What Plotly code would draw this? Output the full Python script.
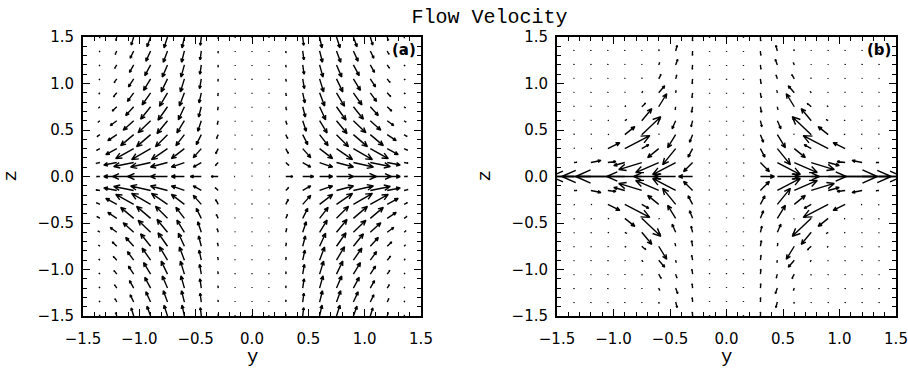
import math
import plotly.graph_objects as go

# ---------------- data ----------------
# grid of the velocity field (y columns, z rows)
Y_COLS = [-1.35, -1.2, -1.05, -0.9, -0.75, -0.6, -0.45, -0.3, -0.15, 0.0,
          0.15, 0.3, 0.45, 0.6, 0.75, 0.9, 1.05, 1.2, 1.35]
Z_ROWS = [-1.5, -1.35, -1.2, -1.05, -0.9, -0.75, -0.6, -0.45, -0.3, -0.15, 0.0,
          0.15, 0.3, 0.45, 0.6, 0.75, 0.9, 1.05, 1.2, 1.35, 1.5]

# Quadrant y<=0, z>=0 (rows z = 0.0 ... 1.5, columns y = -1.35 ... 0.0),
# arbitrary velocity units.  The field is mirror-symmetric:
# vy odd in y / even in z, vz even in y / odd in z.
A_VY_Q = [
    [-0.35, -1.3, -2.1, -2.3, -1.7, -1.3, -1.1, -0.7, -0.08, 0.0],
    [-0.4, -1.3, -2.0, -2.0, -1.7, -1.3, -0.8, -0.3, -0.02, 0.0],
    [-0.35, -1.1, -1.8, -1.9, -1.6, -1.3, -0.8, -0.25, -0.02, 0.0],
    [-0.3, -0.9, -1.3, -1.4, -1.2, -0.85, -0.5, -0.18, -0.01, 0.0],
    [-0.2, -0.65, -1.05, -1.25, -1.05, -0.75, -0.35, -0.1, 0.0, 0.0],
    [-0.14, -0.45, -0.8, -1.0, -0.95, -0.6, -0.27, -0.06, 0.0, 0.0],
    [-0.11, -0.35, -0.62, -0.85, -0.8, -0.5, -0.22, -0.04, 0.0, 0.0],
    [-0.09, -0.28, -0.52, -0.7, -0.63, -0.4, -0.17, -0.03, 0.0, 0.0],
    [-0.07, -0.23, -0.42, -0.58, -0.52, -0.34, -0.14, -0.02, 0.0, 0.0],
    [-0.06, -0.18, -0.35, -0.47, -0.42, -0.29, -0.12, -0.02, 0.0, 0.0],
    [-0.04, -0.12, -0.25, -0.36, -0.35, -0.24, -0.1, 0.0, 0.0, 0.0],
]
A_VZ_Q = [
    [0.0, 0.0, 0.0, 0.0, 0.0, 0.0, 0.0, 0.0, 0.0, 0.0],
    [-0.08, -0.25, -0.4, -0.45, -0.45, -0.45, -0.45, -0.3, -0.04, -0.03],
    [-0.18, -0.6, -1.0, -1.1, -1.1, -1.0, -0.9, -0.5, -0.06, -0.04],
    [-0.2, -0.6, -1.1, -1.2, -1.2, -1.1, -1.0, -0.4, -0.06, -0.05],
    [-0.15, -0.48, -0.95, -1.2, -1.28, -1.22, -1.05, -0.38, -0.06, -0.05],
    [-0.13, -0.43, -0.88, -1.25, -1.35, -1.3, -1.02, -0.33, -0.06, -0.05],
    [-0.12, -0.4, -0.85, -1.22, -1.35, -1.32, -1.0, -0.3, -0.06, -0.05],
    [-0.11, -0.38, -0.8, -1.15, -1.3, -1.3, -0.97, -0.26, -0.06, -0.05],
    [-0.11, -0.35, -0.75, -1.07, -1.22, -1.22, -0.93, -0.23, -0.06, -0.05],
    [-0.11, -0.35, -0.72, -1.02, -1.13, -1.13, -0.88, -0.21, -0.06, -0.05],
    [-0.11, -0.35, -0.8, -0.98, -1.08, -1.08, -0.84, -0.2, -0.06, -0.05],
]

B_VY_Q = [
    [-3.0, -4.0, -4.6, -4.9, -3.5, -2.5, -2.2, -1.4, -0.05, 0.0],
    [0.3, 1.0, 0.8, -1.1, -2.3, -2.3, -2.3, -0.9, -0.03, 0.0],
    [0.05, 0.1, 1.2, 2.5, 0.7, -1.1, -1.3, -0.45, -0.02, 0.0],
    [0.03, 0.05, 0.1, 1.0, 1.9, 0.05, -0.8, -0.3, -0.01, 0.0],
    [0.02, 0.03, 0.08, 0.2, 1.0, 0.15, -0.35, -0.15, 0.0, 0.0],
    [0.01, 0.02, 0.04, 0.1, 0.4, 0.8, -0.05, -0.1, 0.0, 0.0],
    [0.0, 0.01, 0.02, 0.04, 0.1, 0.6, 0.05, -0.08, 0.0, 0.0],
    [0.0, 0.0, 0.01, 0.02, 0.04, 0.25, 0.12, -0.06, 0.0, 0.0],
    [0.0, 0.0, 0.0, 0.01, 0.02, 0.1, 0.2, -0.05, 0.0, 0.0],
    [0.0, 0.0, 0.0, 0.0, 0.01, 0.05, 0.15, -0.03, 0.0, 0.0],
    [0.0, 0.0, 0.0, 0.0, 0.0, 0.02, 0.06, -0.02, 0.0, 0.0],
]
B_VZ_Q = [
    [0.0, 0.0, 0.0, 0.0, 0.0, 0.0, 0.0, 0.0, 0.0, 0.0],
    [0.02, 0.2, 0.1, -0.3, -0.7, -1.0, -1.2, -0.9, -0.03, -0.02],
    [0.01, 0.03, 0.6, 1.3, 0.4, -0.9, -1.6, -0.85, -0.05, -0.03],
    [0.02, 0.03, 0.05, 0.8, 1.8, 0.05, -1.3, -0.75, -0.05, -0.04],
    [0.03, 0.03, 0.06, 0.12, 1.2, 0.2, -0.8, -0.6, -0.05, -0.04],
    [0.03, 0.04, 0.05, 0.1, 0.35, 1.3, -0.3, -0.55, -0.05, -0.04],
    [0.04, 0.04, 0.05, 0.08, 0.15, 0.7, 0.25, -0.5, -0.05, -0.04],
    [0.04, 0.04, 0.04, 0.05, 0.1, 0.45, 0.4, -0.5, -0.05, -0.04],
    [0.04, 0.04, 0.04, 0.05, 0.08, 0.25, 0.55, -0.45, -0.05, -0.04],
    [0.04, 0.04, 0.04, 0.05, 0.06, 0.15, 0.55, -0.45, -0.05, -0.04],
    [0.04, 0.04, 0.04, 0.04, 0.05, 0.1, 0.35, -0.4, -0.05, -0.04],
]

TICKS = [-1.5, -1.0, -0.5, 0.0, 0.5, 1.0, 1.5]
PANEL_LABELS = ["(a)", "(b)"]
AXIS_TITLES = ("y", "z")
MAIN_TITLE = "Flow Velocity"

# ---------------- layout geometry ----------------
W, H = 908, 368
PX_L = [(83, 421), (557, 896)]
PY = (37, 316)
PX_PER_UNIT = 10.0          # arrow pixels per velocity unit
HEAD_FRAC = 0.33
HEAD_ANG = math.radians(24)


def full_field(qy, qz):
    vy, vz = [], []
    for z in Z_ROWS:
        j = int(round(z / 0.15))
        ry, rz = [], []
        for y in Y_COLS:
            k = int(round(y / 0.15))
            q = -abs(k) + 9
            sy = -1.0 if k > 0 else 1.0
            sz = -1.0 if j < 0 else 1.0
            ry.append(qy[abs(j)][q] * sy)
            rz.append(qz[abs(j)][q] * sz)
        vy.append(ry)
        vz.append(rz)
    return vy, vz


def arrows(vy, vz, xpx):
    sx = (xpx[1] - xpx[0]) / 3.0
    sz = (PY[1] - PY[0]) / 3.0
    xs, ys = [], []
    for r, z in enumerate(Z_ROWS):
        for c, y in enumerate(Y_COLS):
            dx = vy[r][c] * PX_PER_UNIT
            dz = vz[r][c] * PX_PER_UNIT
            L = math.hypot(dx, dz)
            if L < 0.8:
                dz = 0.8 if dz >= 0 else -0.8
                L = math.hypot(dx, dz)
            tx, tz = dx, dz
            ux, uz = dx / L, dz / L
            h = HEAD_FRAC * L
            ca, sa = math.cos(HEAD_ANG), math.sin(HEAD_ANG)
            b1 = (tx - h * (ux * ca - uz * sa), tz - h * (uz * ca + ux * sa))
            b2 = (tx - h * (ux * ca + uz * sa), tz - h * (uz * ca - ux * sa))
            pts = [(0, 0), (tx, tz), b1, (tx, tz), b2]
            for px_, pz_ in pts:
                xs.append(y + px_ / sx)
                ys.append(z + pz_ / sz)
            xs.append(None)
            ys.append(None)
    return xs, ys


fig = go.Figure()
fields = [full_field(A_VY_Q, A_VZ_Q), full_field(B_VY_Q, B_VZ_Q)]
for i, (vy, vz) in enumerate(fields):
    xs, ys = arrows(vy, vz, PX_L[i])
    fig.add_trace(go.Scatter(
        x=xs, y=ys, mode="lines", xaxis="x" if i == 0 else "x2",
        yaxis="y" if i == 0 else "y2",
        line=dict(color="black", width=1.4), hoverinfo="skip", showlegend=False))

ydom = [(H - PY[1]) / H, (H - PY[0]) / H]
tickfont = dict(family="DejaVu Sans", size=15, color="black")
titlefont = dict(family="Liberation Mono", size=19, color="black")


def ax(dom, anchor):
    return dict(
        domain=dom, range=[-1.5, 1.5], anchor=anchor, automargin=False,
        tickvals=TICKS, tickformat=".1f", ticks="inside", ticklen=7,
        tickwidth=1, tickcolor="black",
        minor=dict(dtick=0.1, ticks="inside", ticklen=4, tickwidth=1,
                   tickcolor="black"),
        showline=True, linewidth=2, linecolor="black", mirror="ticks",
        showgrid=False, zeroline=False, tickfont=tickfont,
    )


layout = dict(
    width=W, height=H, margin=dict(l=0, r=0, t=0, b=0, autoexpand=False),
    paper_bgcolor="white", plot_bgcolor="white",
    title=dict(text=MAIN_TITLE, x=489.5 / W, xanchor="center",
               y=(H - 15.5) / H, yanchor="middle",
               font=dict(family="Liberation Mono", size=20, color="black")),
)
for i, xp in enumerate(PX_L):
    xd = [xp[0] / W, xp[1] / W]
    xa = ax(xd, "y" if i == 0 else "y2")
    ya = ax(ydom, "x" if i == 0 else "x2")
    xa["ticklabelstandoff"] = 8
    ya["ticklabelstandoff"] = 4
    layout["xaxis" if i == 0 else "xaxis2"] = xa
    layout["yaxis" if i == 0 else "yaxis2"] = ya

fig.update_layout(**layout)

for i, lab in enumerate(PANEL_LABELS):
    x0, x1 = PX_L[i]
    fig.add_annotation(
        text=lab, xref="paper", yref="paper",
        x=(x1 - 3) / W, y=(H - 50) / H, xanchor="right", yanchor="middle",
        showarrow=False,
        font=dict(family="DejaVu Sans", size=15, color="black", weight="bold"))
    # axis titles
    fig.add_annotation(
        text=AXIS_TITLES[0], xref="paper", yref="paper",
        x=(x0 + x1) / 2 / W, y=(H - 357) / H, xanchor="center", yanchor="middle",
        showarrow=False, font=titlefont)
    fig.add_annotation(
        text=AXIS_TITLES[1], xref="paper", yref="paper",
        x=(x0 - 73) / W, y=(H - 176.5) / H, xanchor="center", yanchor="middle",
        textangle=-90, showarrow=False, font=titlefont)

fig.write_html("out.html")
